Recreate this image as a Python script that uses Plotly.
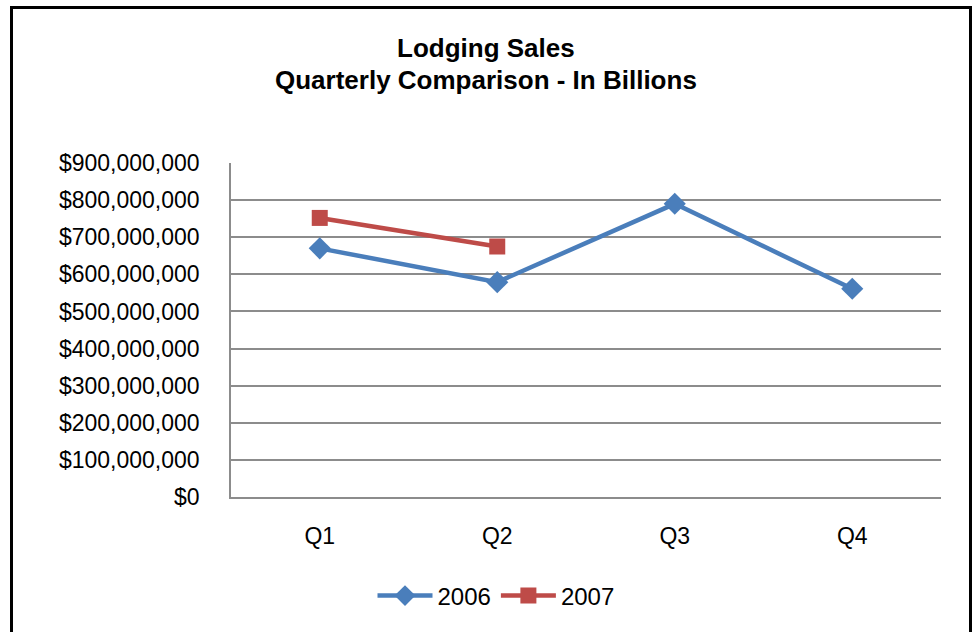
import plotly.graph_objects as go

# Quarterly lodging sales, in dollars
quarters = ["Q1", "Q2", "Q3", "Q4"]
sales_2006 = [670000000, 579000000, 790000000, 561000000]
sales_2007 = [752000000, 675000000, None, None]
y_ticks = list(range(0, 900000001, 100000000))
y_labels = ["$" + format(v, ",d") for v in y_ticks]

FONT = "Liberation Sans, Arial, sans-serif"
BLUE = "#4A7EBB"
RED = "#BE4B48"
GRID = "#8C8C8C"

fig = go.Figure()
fig.add_trace(go.Scatter(
    x=quarters, y=sales_2006, name="2006", mode="lines+markers",
    line=dict(color=BLUE, width=4.5),
    marker=dict(symbol="diamond", size=17, color=BLUE),
))
fig.add_trace(go.Scatter(
    x=quarters, y=sales_2007, name="2007", mode="lines+markers",
    line=dict(color=RED, width=4.5),
    marker=dict(symbol="square", size=16, color=RED),
))

# plot area: x 231..941, y 163..497 in a 977x632 page
L, R, T, B = 231, 36, 163, 135
W, H = 977 - L - R, 632 - T - B

def px_x(x):
    return (x - L) / W

def px_y(y):
    return (632 - B - y) / H

fig.update_layout(
    width=977, height=632,
    margin=dict(l=L, r=R, t=T, b=B, pad=0),
    paper_bgcolor="white", plot_bgcolor="white",
    font=dict(family=FONT, size=23, color="black"),
    showlegend=True,
    legend=dict(
        orientation="h", x=px_x(496), xanchor="center",
        y=px_y(596), yanchor="middle",
        font=dict(size=24), itemwidth=55, bgcolor="rgba(0,0,0,0)",
    ),
    xaxis=dict(
        range=[-0.5, 3.5], showgrid=False, showline=True,
        linecolor=GRID, linewidth=1.5, ticks="",
        ticklabelstandoff=18, fixedrange=True,
    ),
    yaxis=dict(
        range=[0, 900000000], tickvals=y_ticks, ticktext=y_labels,
        showgrid=True, gridcolor=GRID, gridwidth=1.5,
        showline=True, linecolor=GRID, linewidth=1.5, ticks="",
        ticklabelstandoff=25, zeroline=False, fixedrange=True,
    ),
    annotations=[
        dict(text="<b>Lodging Sales</b>", xref="paper", yref="paper",
             x=px_x(486), y=px_y(48), xanchor="center", yanchor="middle",
             showarrow=False, font=dict(size=26)),
        dict(text="<b>Quarterly Comparison - In Billions</b>", xref="paper",
             yref="paper", x=px_x(486), y=px_y(80), xanchor="center",
             yanchor="middle", showarrow=False, font=dict(size=26)),
    ],
    shapes=[
        dict(type="rect", xref="paper", yref="paper",
             x0=px_x(11.5), x1=px_x(970.5), y0=px_y(645), y1=px_y(7.5),
             line=dict(color="black", width=3), layer="above"),
    ],
)

fig.write_html("out.html")
